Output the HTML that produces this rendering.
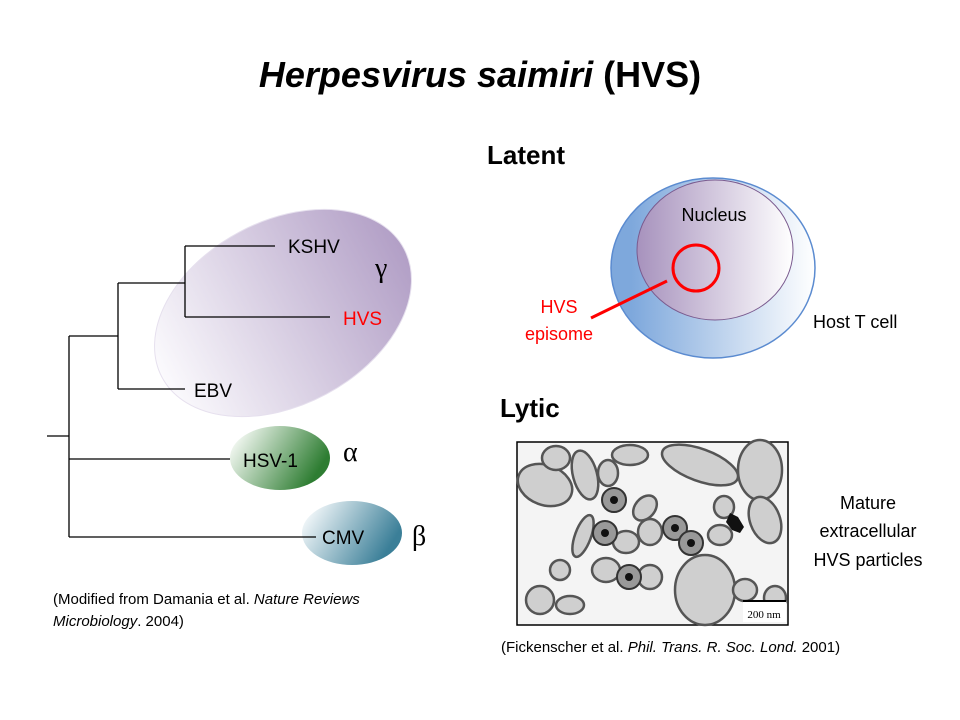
<!DOCTYPE html>
<html><head><meta charset="utf-8"><style>
html,body{margin:0;padding:0;background:#fff;}
body{width:960px;height:720px;overflow:hidden;position:relative;font-family:"Liberation Sans",sans-serif;}
svg{position:absolute;left:0;top:0;}
</style></head><body>
<svg width="960" height="720" viewBox="0 0 960 720" font-family="Liberation Sans, sans-serif">
<defs>
<linearGradient id="gp" x1="0" y1="0" x2="1" y2="0"><stop offset="0" stop-color="#fbfafd"/><stop offset="1" stop-color="#b29fc6"/></linearGradient>
<linearGradient id="gg" x1="0" y1="0" x2="1" y2="0.4"><stop offset="0.1" stop-color="#f6faf5"/><stop offset="1" stop-color="#2e7d32"/></linearGradient>
<linearGradient id="gb" x1="0" y1="0" x2="1" y2="0.4"><stop offset="0.1" stop-color="#f5f9fb"/><stop offset="1" stop-color="#3b7f98"/></linearGradient>
<linearGradient id="cb" x1="0" y1="0" x2="1" y2="0"><stop offset="0.1" stop-color="#7ea8dc"/><stop offset="1" stop-color="#ffffff"/></linearGradient>
<linearGradient id="np" x1="0" y1="0" x2="1" y2="0"><stop offset="0" stop-color="#a792bd"/><stop offset="1" stop-color="#ffffff"/></linearGradient>
</defs>
<text x="480" y="87" text-anchor="middle" font-size="36" font-weight="bold"><tspan font-style="italic">Herpesvirus saimiri</tspan> (HVS)</text>

<ellipse cx="283" cy="313" rx="137" ry="92" transform="rotate(-28 283 313)" fill="url(#gp)" stroke="#e6e0ee" stroke-width="1"/>
<ellipse cx="280" cy="458" rx="50" ry="32" fill="url(#gg)"/>
<ellipse cx="352" cy="533" rx="50" ry="32" fill="url(#gb)"/>
<g stroke="#000" stroke-width="1.3" fill="none">
<path d="M47 436H69M69 336V537M69 336H118M118 283V389M118 283H185M185 246V317M185 246H275M185 317H330M118 389H185M69 459H230M69 537H316"/>
</g>
<g font-size="19">
<text x="288" y="253">KSHV</text>
<text x="343" y="325" fill="#ff0000">HVS</text>
<text x="194" y="397">EBV</text>
<text x="243" y="467">HSV-1</text>
<text x="322" y="544">CMV</text>
</g>
<g font-family="Liberation Serif, serif" font-size="28">
<text x="375" y="277">γ</text>
<text x="343" y="461">α</text>
<text x="412" y="545">β</text>
</g>
<text x="53" y="604" font-size="15">(Modified from Damania et al. <tspan font-style="italic">Nature Reviews</tspan></text>
<text x="53" y="626" font-size="15"><tspan font-style="italic">Microbiology</tspan>. 2004)</text>

<text x="487" y="164" font-size="26" font-weight="bold">Latent</text>
<ellipse cx="713" cy="268" rx="102" ry="90" fill="url(#cb)" stroke="#5b8bd0" stroke-width="1.5"/>
<ellipse cx="715" cy="250" rx="78" ry="70" fill="url(#np)" stroke="#7a5a8e" stroke-width="1"/>
<text x="714" y="221" text-anchor="middle" font-size="18">Nucleus</text>
<circle cx="696" cy="268" r="23" fill="none" stroke="#ff0000" stroke-width="3"/>
<line x1="591" y1="318" x2="667" y2="281" stroke="#ff0000" stroke-width="3"/>
<text x="559" y="313" text-anchor="middle" font-size="18" fill="#ff0000">HVS</text>
<text x="559" y="340" text-anchor="middle" font-size="18" fill="#ff0000">episome</text>
<text x="813" y="328" font-size="18">Host T cell</text>

<text x="500" y="417" font-size="26" font-weight="bold">Lytic</text>
<rect x="517" y="442" width="271" height="183" fill="#f4f4f4" stroke="#000" stroke-width="1.5"/>
<g stroke="#555" stroke-width="2.5" fill="#cfcfcf">
<ellipse cx="545" cy="485" rx="28" ry="20" transform="rotate(20 545 485)"/>
<ellipse cx="556" cy="458" rx="14" ry="12"/>
<ellipse cx="585" cy="475" rx="12" ry="25" transform="rotate(-15 585 475)"/>
<ellipse cx="608" cy="473" rx="10" ry="13"/>
<ellipse cx="630" cy="455" rx="18" ry="10"/>
<ellipse cx="583" cy="536" rx="8" ry="22" transform="rotate(20 583 536)"/>
<ellipse cx="560" cy="570" rx="10" ry="10"/>
<ellipse cx="540" cy="600" rx="14" ry="14"/>
<ellipse cx="570" cy="605" rx="14" ry="9"/>
<ellipse cx="606" cy="570" rx="14" ry="12"/>
<ellipse cx="626" cy="542" rx="13" ry="11"/>
<ellipse cx="650" cy="532" rx="12" ry="13"/>
<ellipse cx="645" cy="508" rx="10" ry="14" transform="rotate(40 645 508)"/>
<ellipse cx="650" cy="577" rx="12" ry="12"/>
<ellipse cx="705" cy="590" rx="30" ry="35"/>
<ellipse cx="700" cy="465" rx="40" ry="16" transform="rotate(20 700 465)"/>
<ellipse cx="760" cy="470" rx="22" ry="30"/>
<ellipse cx="765" cy="520" rx="15" ry="24" transform="rotate(-20 765 520)"/>
<ellipse cx="724" cy="507" rx="10" ry="11"/>
<ellipse cx="720" cy="535" rx="12" ry="10"/>
<ellipse cx="745" cy="590" rx="12" ry="11"/>
<ellipse cx="775" cy="598" rx="11" ry="12"/>
</g>
<g stroke="#333" stroke-width="2" fill="#999">
<circle cx="614" cy="500" r="12"/>
<circle cx="605" cy="533" r="12"/>
<circle cx="675" cy="528" r="12"/>
<circle cx="691" cy="543" r="12"/>
<circle cx="629" cy="577" r="12"/>
</g>
<g fill="#111">
<circle cx="614" cy="500" r="4"/><circle cx="605" cy="533" r="4"/><circle cx="675" cy="528" r="4"/><circle cx="691" cy="543" r="4"/><circle cx="629" cy="577" r="4"/>
<path d="M730 513l8 4 6 10-4 6-8-3-6-8z"/>
</g>
<rect x="743" y="600" width="43" height="22" fill="#fff"/>
<line x1="743" y1="601" x2="786" y2="601" stroke="#000" stroke-width="2"/>
<text x="764" y="618" text-anchor="middle" font-family="Liberation Serif, serif" font-size="11">200 nm</text>
<g font-size="18" text-anchor="middle">
<text x="868" y="509">Mature</text>
<text x="868" y="537">extracellular</text>
<text x="868" y="566">HVS particles</text>
</g>
<text x="501" y="652" font-size="15">(Fickenscher et al. <tspan font-style="italic">Phil. Trans. R. Soc. Lond.</tspan> 2001)</text>
</svg>
</body></html>
